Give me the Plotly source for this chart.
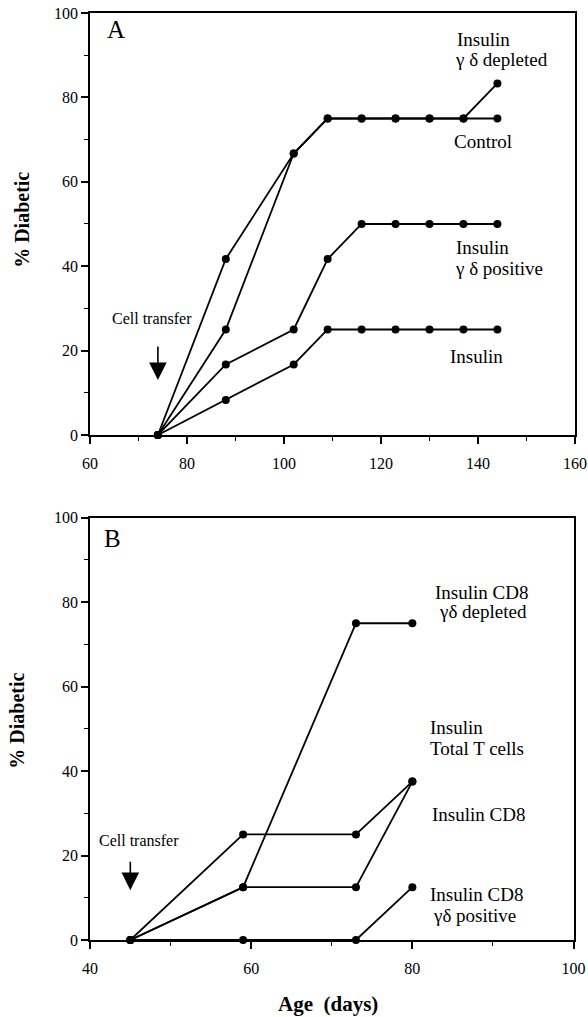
import plotly.graph_objects as go

# ---------------- data ----------------
days_A = [74, 88, 102, 109, 116, 123, 130, 137, 144]
A_gd_depleted = [0, 41.7, 66.7, 75, 75, 75, 75, 75, 83.3]
A_control = [0, 25, 66.7, 75, 75, 75, 75, 75, 75]
A_gd_positive = [0, 16.7, 25, 41.7, 50, 50, 50, 50, 50]
A_insulin = [0, 8.3, 16.7, 25, 25, 25, 25, 25, 25]

days_B = [45, 59, 73, 80]
B_cd8_gd_depleted = [0, 12.5, 75, 75]
B_total_T = [0, 25, 25, 37.5]
B_cd8 = [0, 12.5, 12.5, 37.5]
B_cd8_gd_positive = [0, 0, 0, 12.5]

transfer_day_A = 74
transfer_day_B = 45

x_ticks_A = [60, 80, 100, 120, 140, 160]
x_ticks_B = [40, 60, 80, 100]
y_ticks = [0, 20, 40, 60, 80, 100]

FONT = "Liberation Serif, Times New Roman, Times, serif"

fig = go.Figure()

def add_series(x, y, xa, ya, name):
    fig.add_trace(go.Scatter(
        x=x, y=y, xaxis=xa, yaxis=ya, mode="lines+markers", name=name,
        line=dict(color="black", width=1.8),
        marker=dict(color="black", size=8),
        cliponaxis=False, showlegend=False))

add_series(days_A, A_insulin, "x", "y", "Insulin")
add_series(days_A, A_gd_positive, "x", "y", "Insulin γδ positive")
add_series(days_A, A_control, "x", "y", "Control")
add_series(days_A, A_gd_depleted, "x", "y", "Insulin γδ depleted")

add_series(days_B, B_cd8_gd_positive, "x2", "y2", "Insulin CD8 γδ positive")
add_series(days_B, B_cd8, "x2", "y2", "Insulin CD8")
add_series(days_B, B_total_T, "x2", "y2", "Insulin Total T cells")
add_series(days_B, B_cd8_gd_depleted, "x2", "y2", "Insulin CD8 γδ depleted")

axis_common = dict(
    showline=True, linecolor="black", linewidth=1.6, mirror=True,
    ticks="outside", ticklen=7, tickwidth=1.5, tickcolor="black",
    showgrid=False, zeroline=False, automargin=False,
    ticklabeloverflow="allow",
    tickfont=dict(family=FONT, size=16, color="black"),
)
minor = dict(ticklen=4, tickwidth=1.2, tickcolor="black", ticks="outside", showgrid=False)

fig.update_layout(
    width=588, height=1017,
    margin=dict(l=90, r=13, t=13, b=77, autoexpand=False),
    plot_bgcolor="white", paper_bgcolor="white",
    font=dict(family=FONT, color="black"),
    xaxis=dict(domain=[0, 1], range=[60, 160], anchor="y", tickvals=x_ticks_A,
               minor=dict(dtick=10, **minor), ticklabelstandoff=6, **axis_common),
    yaxis=dict(domain=[0.5448, 1], range=[0, 100], anchor="x", tickvals=y_ticks,
               minor=dict(dtick=10, **minor), **axis_common),
    xaxis2=dict(domain=[0, 0.997], range=[40, 100], anchor="y2", tickvals=x_ticks_B,
                minor=dict(dtick=10, **minor), ticklabelstandoff=6, **axis_common),
    yaxis2=dict(domain=[0, 0.4556], range=[0, 100], anchor="x2", tickvals=y_ticks,
                minor=dict(dtick=10, **minor), **axis_common),
)

ann = []

def label(text, x, y, xr, yr, size=19):
    ann.append(dict(text=text, x=x, y=y, xref=xr, yref=yr, xanchor="left",
                    yanchor="middle", showarrow=False, align="left",
                    font=dict(family=FONT, size=size, color="black")))

# Panel A labels
label("A", 63.0, 96.0, "x", "y", size=25)
label("Insulin", 135.3, 93.7, "x", "y")
label("γ δ depleted", 134.9, 88.9, "x", "y")
label("Control", 134.6, 69.6, "x", "y")
label("Insulin", 135.1, 44.4, "x", "y")
label("γ δ positive", 134.9, 39.5, "x", "y")
label("Insulin", 133.8, 18.6, "x", "y")
label("Cell transfer", 64.1, 27.7, "x", "y", size=16)

# Panel B labels
label("B", 41.5, 95.1, "x2", "y2", size=25)
label("Insulin CD8", 82.6, 82.3, "x2", "y2")
label("γδ depleted", 83.1, 77.7, "x2", "y2")
label("Insulin", 81.9, 50.3, "x2", "y2")
label("Total T cells", 81.9, 45.4, "x2", "y2")
label("Insulin CD8", 82.2, 29.8, "x2", "y2")
label("Insulin CD8", 82.0, 10.7, "x2", "y2")
label("γδ positive", 82.3, 5.9, "x2", "y2")
label("Cell transfer", 40.9, 23.5, "x2", "y2", size=16)

# arrows
ann.append(dict(x=transfer_day_A, y=13.0, ax=transfer_day_A, ay=21.3, xref="x", yref="y",
                axref="x", ayref="y", text="", showarrow=True, arrowhead=2,
                arrowsize=2.2, arrowwidth=1.6, arrowcolor="black"))
ann.append(dict(x=transfer_day_B, y=11.8, ax=transfer_day_B, ay=18.9, xref="x2", yref="y2",
                axref="x2", ayref="y2", text="", showarrow=True, arrowhead=2,
                arrowsize=2.2, arrowwidth=1.6, arrowcolor="black"))

# axis titles
ann.append(dict(text="<b>% Diabetic</b>", x=-0.14, y=0.51, xref="paper", yref="y domain",
                textangle=-90, showarrow=False, xanchor="center", yanchor="middle",
                font=dict(family=FONT, size=20, color="black")))
ann.append(dict(text="<b>% Diabetic</b>", x=-0.15, y=0.52, xref="paper", yref="y2 domain",
                textangle=-90, showarrow=False, xanchor="center", yanchor="middle",
                font=dict(family=FONT, size=20, color="black")))
ann.append(dict(text="<b>Age  (days)</b>", x=0.49, y=-0.069, xref="paper", yref="paper",
                showarrow=False, xanchor="center", yanchor="middle",
                font=dict(family=FONT, size=21, color="black")))

fig.update_layout(annotations=ann)

# remove the default 8px page margin so the figure fills the window exactly
fig.write_html("out.html",
               config={"displayModeBar": False},
               post_script="document.body.style.margin='0';document.body.style.overflow='hidden';")
